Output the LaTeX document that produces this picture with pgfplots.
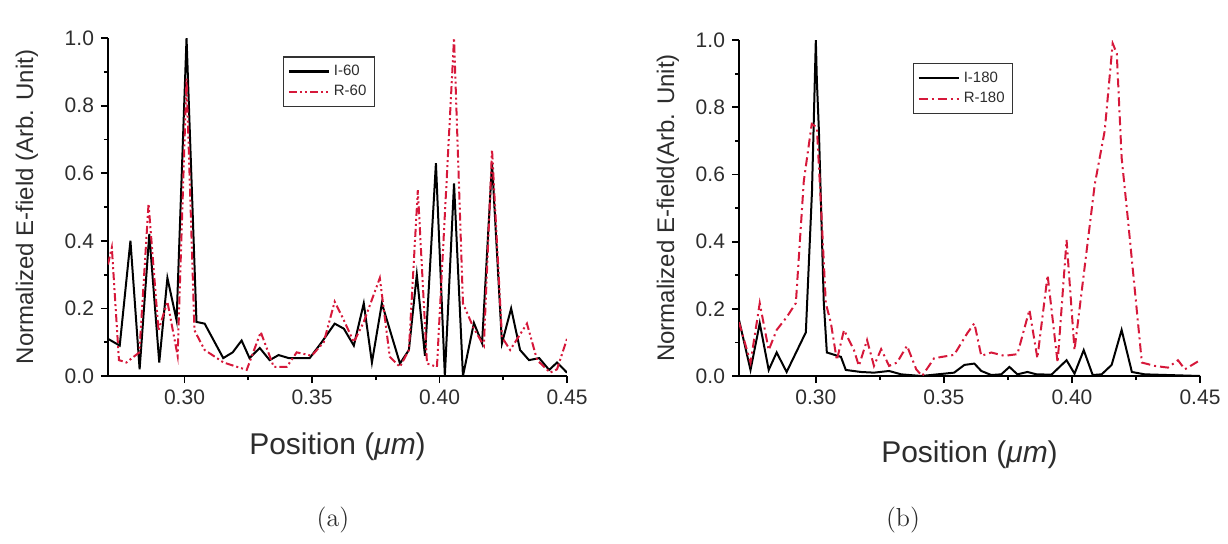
\documentclass[border=0pt]{standalone}
\usepackage{pgfplots}
\pgfplotsset{compat=1.18}
\usepackage{fontspec}
\newfontfamily\arial{Liberation Sans}
\definecolor{rcurve}{RGB}{214,24,58}
\definecolor{txt}{RGB}{45,45,45}

% I-60 / R-60 field profiles
\pgfplotstableread{
x y
0.2700 0.11
0.2746 0.09
0.2788 0.40
0.2824 0.02
0.2862 0.42
0.2901 0.04
0.2933 0.29
0.2969 0.165
0.3008 1.00
0.3047 0.16
0.3079 0.155
0.3152 0.053
0.3189 0.07
0.3224 0.105
0.3255 0.053
0.3295 0.083
0.3334 0.047
0.3369 0.062
0.3409 0.053
0.3491 0.053
0.3538 0.10
0.3589 0.155
0.3625 0.14
0.3664 0.09
0.3703 0.215
0.3735 0.04
0.3774 0.215
0.3845 0.037
0.3880 0.077
0.3911 0.30
0.3943 0.06
0.3986 0.63
0.4021 0.00
0.4057 0.57
0.4092 0.00
0.4135 0.157
0.4167 0.097
0.4206 0.63
0.4245 0.097
0.4281 0.20
0.4316 0.077
0.4351 0.047
0.4391 0.053
0.4430 0.018
0.4461 0.04
0.4500 0.01
}\Isixty
\pgfplotstableread{
x y
0.2700 0.33
0.2715 0.38
0.2743 0.047
0.2772 0.04
0.2823 0.07
0.2859 0.51
0.2898 0.135
0.2933 0.22
0.2973 0.06
0.3008 0.88
0.3039 0.135
0.3079 0.077
0.3153 0.04
0.3244 0.018
0.3299 0.13
0.3350 0.027
0.3401 0.027
0.3440 0.07
0.3499 0.06
0.3546 0.10
0.3589 0.22
0.3625 0.165
0.3664 0.10
0.3703 0.16
0.3766 0.29
0.3805 0.057
0.3845 0.027
0.3880 0.077
0.3915 0.55
0.3951 0.037
0.3990 0.027
0.4057 1.00
0.4092 0.215
0.4135 0.14
0.4174 0.09
0.4206 0.67
0.4245 0.115
0.4277 0.077
0.4343 0.155
0.4383 0.047
0.4434 0.01
0.4461 0.02
0.4500 0.11
}\Rsixty

% I-180 / R-180 field profiles
\pgfplotstableread{
x y
0.2700 0.167
0.2745 0.018
0.2781 0.157
0.2816 0.018
0.2847 0.07
0.2886 0.012
0.2961 0.13
0.2985 0.55
0.3000 1.00
0.3004 0.88
0.3012 0.73
0.3031 0.22
0.3043 0.07
0.3098 0.057
0.3117 0.018
0.3176 0.012
0.3227 0.01
0.3286 0.015
0.3333 0.005
0.3411 0.00
0.3540 0.01
0.3580 0.033
0.3619 0.037
0.3646 0.015
0.3685 0.003
0.3724 0.005
0.3756 0.027
0.3787 0.005
0.3826 0.012
0.3862 0.005
0.3920 0.004
0.3979 0.047
0.4010 0.007
0.4046 0.077
0.4081 0.003
0.4116 0.005
0.4155 0.033
0.4194 0.137
0.4234 0.012
0.4284 0.005
0.4500 0.00
}\Ionetwenty
\pgfplotstableread{
x y
0.2700 0.16
0.2745 0.04
0.2781 0.217
0.2816 0.077
0.2847 0.137
0.2886 0.175
0.2922 0.217
0.2953 0.58
0.2984 0.75
0.3004 0.74
0.3020 0.51
0.3039 0.217
0.3059 0.157
0.3082 0.047
0.3110 0.137
0.3149 0.077
0.3168 0.03
0.3200 0.107
0.3227 0.03
0.3255 0.08
0.3286 0.03
0.3317 0.04
0.3356 0.09
0.3392 0.02
0.3415 0.00
0.3462 0.053
0.3540 0.063
0.3591 0.127
0.3619 0.157
0.3646 0.06
0.3685 0.07
0.3736 0.06
0.3787 0.065
0.3834 0.197
0.3865 0.053
0.3905 0.30
0.3944 0.04
0.3979 0.405
0.4010 0.077
0.4089 0.57
0.4128 0.73
0.4159 0.99
0.4175 0.96
0.4194 0.65
0.4218 0.47
0.4245 0.26
0.4273 0.04
0.4324 0.03
0.4375 0.025
0.4414 0.047
0.4441 0.02
0.4500 0.047
}\Ronetwenty

\pgfplotsset{
  fieldaxis/.style={
    scale only axis,
    width=229.5pt, height=169pt,
    xmin=0.27, xmax=0.45, ymin=0, ymax=1,
    axis x line=bottom, axis y line=left,
    axis line style={-, line width=1.2pt, black},
    tick align=outside,
    major tick length=3.5pt, minor tick length=2pt,
    every tick/.style={black, line width=0.9pt},
    xtick={0.30,0.35,0.40,0.45},
    minor x tick num=1,
    ytick={0,0.2,0.4,0.6,0.8,1.0},
    minor y tick num=1,
    scaled x ticks=false, scaled y ticks=false,
    /pgf/number format/assume math mode=true,
    xticklabel style={/pgf/number format/.cd, fixed, fixed zerofill, precision=2},
    yticklabel style={/pgf/number format/.cd, fixed, fixed zerofill, precision=1},
    tick label style={font=\arial\fontsize{10.5}{12}\selectfont, text=txt},
    label style={font=\arial, text=txt},
    xlabel style={font=\arial\fontsize{15}{18}\selectfont, at={(axis description cs:0.5,0)}, anchor=center},
    ylabel style={font=\arial\fontsize{12}{14}\selectfont, at={(axis description cs:0,0.5)}, anchor=center},
    legend style={font=\arial\fontsize{7.5}{9}\selectfont, draw=black!80, line width=0.8pt,
      inner sep=2pt, row sep=-0.5pt, legend cell align=left, text=txt},
    legend image post style={line width=1.1pt},
    legend image code/.code={\draw[##1] (0pt,0pt) -- (20pt,0pt);},
    clip=true,
  },
}

\begin{document}
\begin{tikzpicture}
\useasboundingbox (0,0) rectangle (614pt,-271.5pt);

\begin{axis}[fieldaxis,
  at={(54pt,-188pt)}, anchor=south west,
  xlabel={Position ({\itshape μm})},
  xlabel style={yshift=-35.5pt},
  ylabel={Normalized E-field (Arb. Unit)},
  ylabel style={xshift=0pt, yshift=40.5pt},
  legend style={at={(0.381,0.947)}, anchor=north west},
]
\addplot[black, line width=1pt] table {\Isixty};
\addlegendentry{I-60}
\addplot[rcurve, line width=1pt, dash pattern=on 4pt off 1.5pt on 1pt off 1.5pt on 1pt off 1.5pt] table {\Rsixty};
\addlegendentry{R-60}
\end{axis}

\begin{axis}[fieldaxis,
  width=230.5pt, height=168pt,
  at={(369.5pt,-188pt)}, anchor=south west,
  xlabel={Position ({\itshape μm})},
  xlabel style={yshift=-39.5pt},
  ylabel={Normalized E-field(Arb. Unit)},
  ylabel style={yshift=35.5pt},
  legend style={at={(0.377,0.932)}, anchor=north west},
]
\addplot[black, line width=1pt] table {\Ionetwenty};
\addlegendentry{I-180}
\addplot[rcurve, line width=1pt, dash pattern=on 4.5pt off 2pt on 1pt off 2pt] table {\Ronetwenty};
\addlegendentry{R-180}
\end{axis}

\node[font=\fontsize{13}{15}\selectfont, text=txt] at (166.5pt,-260pt) {(a)};
\node[font=\fontsize{13}{15}\selectfont, text=txt] at (451.5pt,-260pt) {(b)};
\end{tikzpicture}
\end{document}
